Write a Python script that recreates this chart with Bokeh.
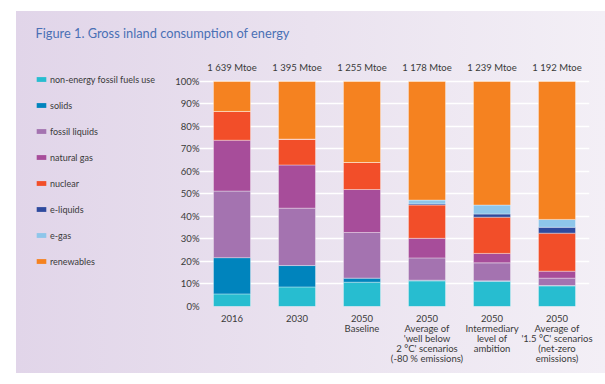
from bokeh.plotting import figure
from bokeh.layouts import column, row
from bokeh.models import (Range1d, FactorRange, ColumnDataSource, Legend, LegendItem,
                          CategoricalAxis, FixedTicker, Label, CustomJSTickFormatter)
from bokeh.embed import file_html
from bokeh.resources import INLINE

cat_labels = ["2016", "2030", "2050\nBaseline",
              "2050\nAverage of\n'well below\n2 °C' scenarios\n(-80 % emissions)",
              "2050\nIntermediary\nlevel of\nambition",
              "2050\nAverage of\n'1.5 °C' scenarios\n(net-zero\nemissions)"]
totals = ["1 639 Mtoe", "1 395 Mtoe", "1 255 Mtoe", "1 178 Mtoe", "1 239 Mtoe", "1 192 Mtoe"]

series = ["non-energy fossil fuels use", "solids", "fossil liquids", "natural gas",
          "nuclear", "e-liquids", "e-gas", "renewables"]
non_energy = [5.6, 8.7, 10.8, 11.4, 11.1, 9.2]
solids = [16.1, 9.5, 1.8, 0.3, 0.3, 0.1]
fossil_liquids = [29.6, 25.5, 20.3, 9.9, 8.0, 3.3]
natural_gas = [22.6, 19.2, 19.1, 8.7, 4.2, 3.1]
nuclear = [12.8, 11.5, 12.0, 14.8, 16.1, 16.9]
e_liquids = [0.0, 0.0, 0.0, 0.5, 1.4, 2.6]
e_gas = [0.0, 0.0, 0.0, 1.7, 4.0, 3.5]
renewables = [13.3, 25.6, 36.0, 52.7, 54.9, 61.3]
values = [non_energy, solids, fossil_liquids, natural_gas, nuclear, e_liquids, e_gas, renewables]
colors = ["#27bdd0", "#0084bd", "#a473b0", "#a74d9a", "#f24e29", "#2e4a9e", "#8ec6ea", "#f58220"]

FONT = "Lato"
TXT = "#3a3a3a"
TITLE_H = 48
LEG_W = 160
FRAME_TOP = 73      # page y of the frame top (100 % line sits at 81)
FRAME_BOT = 306.5   # page y of 0 %
Y_TOP = 100 * (FRAME_BOT - FRAME_TOP) / (FRAME_BOT - 81)


def bare(fig):
    fig.axis.visible = False
    fig.grid.visible = False
    fig.outline_line_color = None
    fig.background_fill_color = None
    fig.border_fill_color = None


# ---- title strip ----
t = figure(width=605, height=TITLE_H, x_range=Range1d(0, 1), y_range=Range1d(0, 1),
           output_backend="svg", toolbar_location=None, min_border=0)
bare(t)
t.add_layout(Label(x=35, y=TITLE_H - 32, x_units="screen", y_units="screen",
                   text="Figure 1. Gross inland consumption of energy",
                   text_font=FONT, text_font_size="12.8px", text_color="#4a70b5",
                   text_baseline="middle", text_align="left"))

# ---- main chart ----
data = {"x": cat_labels}
for s, v in zip(series, values):
    data[s] = v
src = ColumnDataSource(data)

p = figure(width=605 - LEG_W, height=384 - TITLE_H, x_range=FactorRange(*cat_labels),
           y_range=Range1d(0, Y_TOP), output_backend="svg", toolbar_location=None,
           min_border_left=199 - LEG_W, min_border_right=16,
           min_border_top=FRAME_TOP - TITLE_H, min_border_bottom=round(384 - FRAME_BOT))
p.outline_line_color = None
p.background_fill_color = None
p.border_fill_color = None

p.vbar_stack(series, x="x", width=0.57, source=src, color=colors,
             line_color="white", line_alpha=0.45, line_width=0.8)

p.xaxis.axis_line_color = None
p.xaxis.major_tick_line_color = None
p.xaxis.major_tick_out = 0
p.xaxis.minor_tick_line_color = None
p.xaxis.major_label_standoff = 6
p.xaxis.major_label_text_font = FONT
p.xaxis.major_label_text_font_size = "9.5px"
p.xaxis.major_label_text_color = TXT
p.xaxis.major_label_text_line_height = 0.92

p.yaxis.ticker = FixedTicker(ticks=list(range(0, 101, 10)))
p.yaxis.major_label_overrides = {t_: f"{t_}%" for t_ in range(0, 101, 10)}
p.yaxis.axis_line_color = None
p.yaxis.major_tick_line_color = None
p.yaxis.major_tick_out = 0
p.yaxis.minor_tick_line_color = None
p.yaxis.major_label_standoff = 0
p.yaxis.major_label_text_font = FONT
p.yaxis.major_label_text_font_size = "9.5px"
p.yaxis.major_label_text_color = TXT

top_fmt = CustomJSTickFormatter(args=dict(keys=cat_labels, vals=totals),
                                code="return vals[keys.indexOf(tick)];")
top_axis = CategoricalAxis(formatter=top_fmt,
                           axis_line_color=None, major_tick_line_color=None, major_tick_out=0,
                           minor_tick_line_color=None, major_label_standoff=1,
                           major_label_text_font=FONT, major_label_text_font_size="9.5px",
                           major_label_text_color=TXT)
p.add_layout(top_axis, "above")

p.xgrid.grid_line_color = None
p.ygrid.ticker = FixedTicker(ticks=list(range(10, 101, 10)))
p.ygrid.grid_line_color = "white"
p.ygrid.grid_line_width = 1.6
p.ygrid.level = "underlay"

# ---- legend panel (same series as zero-width handles, nothing visible) ----
lg = figure(width=LEG_W, height=384 - TITLE_H, x_range=FactorRange(*cat_labels),
            y_range=Range1d(0, Y_TOP), output_backend="svg", toolbar_location=None,
            min_border=0)
bare(lg)
lrs = lg.vbar_stack(series, x="x", width=0.0, source=src, fill_color=colors,
                    line_color=None)
legend = Legend(items=[LegendItem(label=s, renderers=[r]) for s, r in zip(series, lrs)],
                location=(35, round(FRAME_BOT - 267.6)), orientation="vertical",
                glyph_width=12, glyph_height=6, label_height=12, spacing=14,
                label_standoff=3, padding=0, margin=0,
                background_fill_alpha=0, border_line_color=None,
                label_text_font=FONT, label_text_font_size="9px", label_text_color=TXT)
lg.add_layout(legend, "center")

layout = column(t, row(lg, p))
layout.styles = {"background-image": "linear-gradient(90deg, #e1d5e9 0%, #eae2ef 50%, #f3eff6 100%)",
                 "background-size": "589px 362px", "background-position": "16px 11px",
                 "background-repeat": "no-repeat"}

open("out.html", "w").write(file_html(layout, INLINE))
